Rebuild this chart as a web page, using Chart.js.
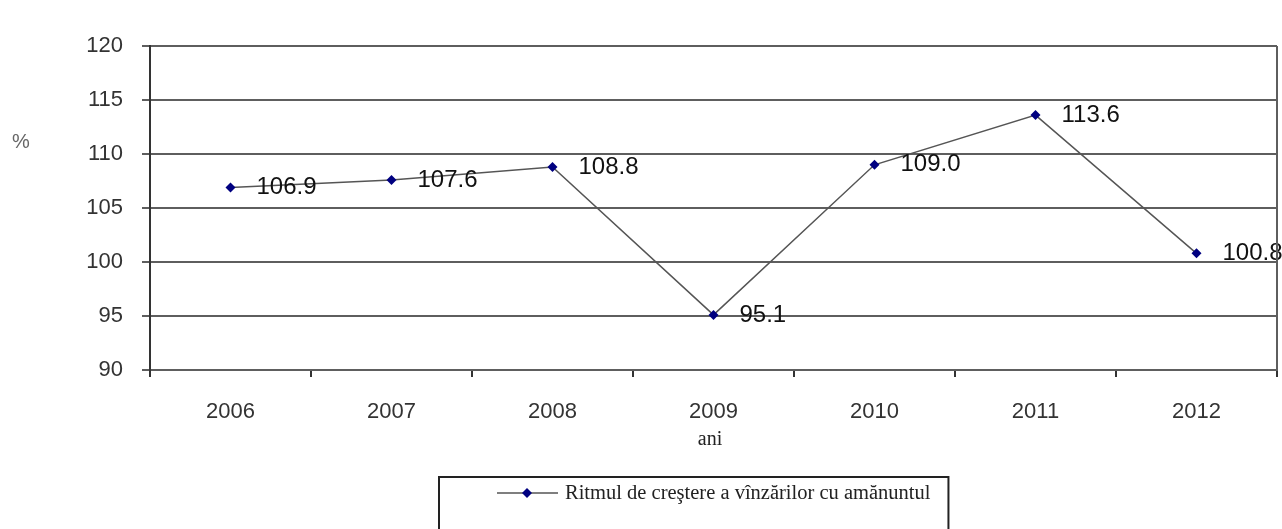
<!DOCTYPE html>
<html><head><meta charset="utf-8">
<script src="https://cdn.jsdelivr.net/npm/chart.js@4"></script>
<style>html,body{margin:0;padding:0;background:#fff;overflow:hidden;} #wrap{width:1282px;height:529px;position:relative;}</style>
</head><body><div id="wrap"><canvas id="c" width="1282" height="529"></canvas></div>
<script>
const categories = ['2006', '2007', '2008', '2009', '2010', '2011', '2012'];
const growthRate = [106.9, 107.6, 108.8, 95.1, 109.0, 113.6, 100.8];
const yMin = 90, yMax = 120, yStep = 5;
const seriesName = 'Ritmul de creştere a vînzărilor cu amănuntul';
const yAxisLabel = '%';
const xAxisLabel = 'ani';

const GRID = '#5e5e5e';
const AXIS = '#333333';
const MARKER = '#000080';

const labelPlugin = {
  id: 'valueLabels',
  afterDatasetsDraw(chart) {
    const ctx = chart.ctx;
    const meta = chart.getDatasetMeta(0);
    ctx.save();
    ctx.font = '24px "Liberation Sans", Arial, sans-serif';
    ctx.fillStyle = '#111';
    ctx.textAlign = 'left';
    ctx.textBaseline = 'middle';
    meta.data.forEach((pt, i) => {
      ctx.fillText(growthRate[i].toFixed(1), pt.x + 26, pt.y);
    });
    ctx.restore();
  }
};

const decorPlugin = {
  id: 'decor',
  afterDraw(chart) {
    const ctx = chart.ctx;
    const a = chart.chartArea;
    ctx.save();
    // right border of plot
    ctx.strokeStyle = GRID;
    ctx.lineWidth = 2;
    ctx.beginPath();
    ctx.moveTo(a.right, a.top);
    ctx.lineTo(a.right, a.bottom);
    ctx.stroke();
    // y axis label
    ctx.fillStyle = '#666';
    ctx.font = '20px "Liberation Sans", Arial, sans-serif';
    ctx.textAlign = 'center';
    ctx.textBaseline = 'middle';
    ctx.fillText(yAxisLabel, 21, 142);
    // x axis label
    ctx.fillStyle = '#222';
    ctx.font = '20px "Liberation Serif", "Times New Roman", serif';
    ctx.fillText(xAxisLabel, 710, 440);
    // legend
    ctx.font = '20.5px "Liberation Serif", "Times New Roman", serif';
    const tw = ctx.measureText(seriesName).width;
    const bx = 439, by = 477;
    const bw = (565 + tw + 18) - bx;
    ctx.strokeStyle = '#222';
    ctx.lineWidth = 2;
    ctx.strokeRect(bx, by, bw, 120);
    ctx.strokeStyle = '#555';
    ctx.lineWidth = 1.5;
    ctx.beginPath();
    ctx.moveTo(497, 493);
    ctx.lineTo(558, 493);
    ctx.stroke();
    ctx.fillStyle = MARKER;
    ctx.beginPath();
    ctx.moveTo(527, 488); ctx.lineTo(532, 493); ctx.lineTo(527, 498); ctx.lineTo(522, 493); ctx.closePath();
    ctx.fill();
    ctx.fillStyle = '#222';
    ctx.textAlign = 'left';
    ctx.fillText(seriesName, 565, 494);
    ctx.restore();
  }
};

new Chart(document.getElementById('c'), {
  type: 'line',
  data: {
    labels: categories,
    datasets: [{
      label: seriesName,
      data: growthRate,
      borderColor: '#555',
      borderWidth: 1.5,
      tension: 0,
      fill: false,
      pointStyle: 'rectRot',
      pointRadius: 5,
      pointHoverRadius: 5,
      pointBackgroundColor: MARKER,
      pointBorderColor: MARKER,
      pointBorderWidth: 0
    }]
  },
  options: {
    responsive: false,
    devicePixelRatio: 1,
    animation: false,
    events: [],
    layout: { padding: { left: 0, right: 1, top: 46, bottom: 59 } },
    plugins: { legend: { display: false }, tooltip: { enabled: false } },
    scales: {
      x: {
        type: 'category',
        offset: true,
        afterFit(s) { s.height = 100; },
        grid: { offset: true, drawOnChartArea: false, drawTicks: true, tickLength: 7, color: AXIS, lineWidth: 2 },
        border: { display: true, color: GRID, width: 2 },
        ticks: { color: '#333', padding: 22, font: { family: '"Liberation Sans", Arial, sans-serif', size: 22 } }
      },
      y: {
        min: yMin, max: yMax,
        afterFit(s) { s.width = 150; },
        grid: { color: GRID, lineWidth: 2, tickLength: 8, tickColor: GRID },
        border: { display: true, color: AXIS, width: 2 },
        ticks: { stepSize: yStep, color: '#333', padding: 19, font: { family: '"Liberation Sans", Arial, sans-serif', size: 22 } }
      }
    }
  },
  plugins: [labelPlugin, decorPlugin]
});
</script>
</body></html>
